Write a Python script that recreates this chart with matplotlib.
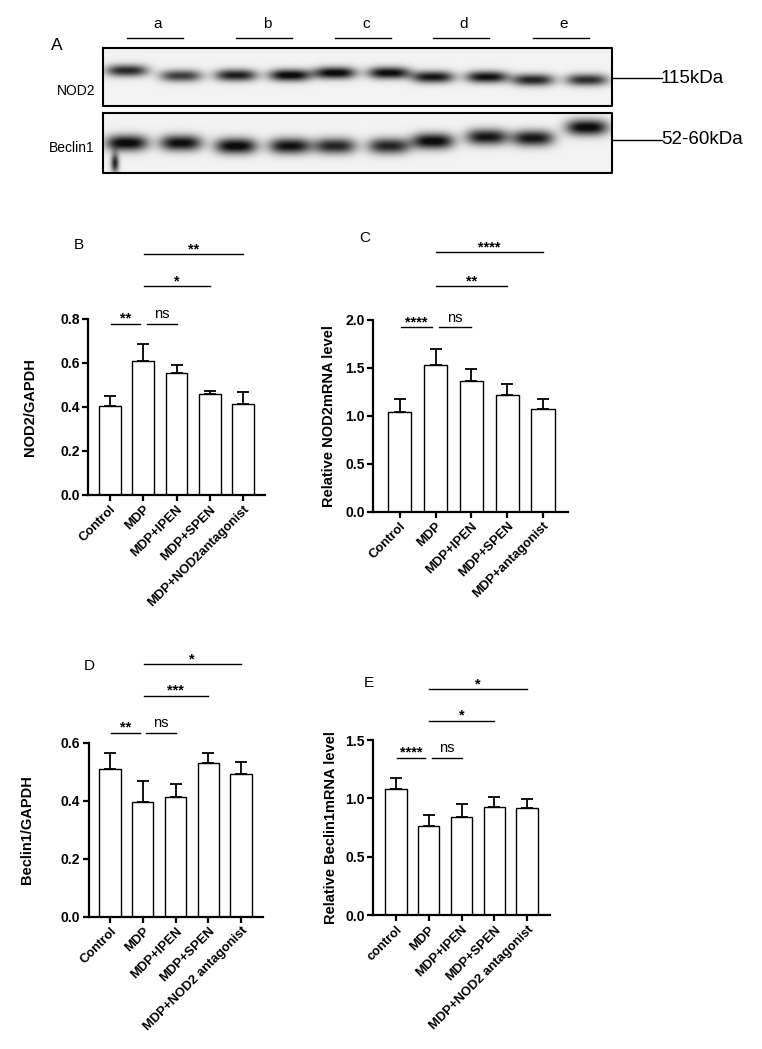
import numpy as np
import matplotlib
matplotlib.use('Agg')
from matplotlib import pyplot as plt

plt.rcParams['font.family'] = ['Liberation Sans', 'DejaVu Sans']

W, H = 762, 1049

# ---- panel A: western blot ----
groups = ['a', 'b', 'c', 'd', 'e']
blot_rows = ['NOD2', 'Beclin1']
blot_sizes = ['115kDa', '52-60kDa']
# band darkness and vertical position (fraction of strip height) per lane
nod2_dark = [0.80, 0.72, 0.85, 0.95, 0.95, 0.93, 0.88, 0.90, 0.82, 0.78]
nod2_pos = [0.39, 0.48, 0.47, 0.47, 0.43, 0.43, 0.50, 0.50, 0.55, 0.55]
becl_dark = [0.95, 0.92, 0.95, 0.90, 0.82, 0.82, 0.95, 0.88, 0.88, 0.95]
becl_pos = [0.50, 0.50, 0.55, 0.55, 0.55, 0.55, 0.47, 0.40, 0.42, 0.24]

# ---- bar panels ----
labels_B = ['Control', 'MDP', 'MDP+IPEN', 'MDP+SPEN', 'MDP+NOD2antagonist']
mean_B = [0.405, 0.609, 0.555, 0.461, 0.415]
sem_B = [0.046, 0.076, 0.036, 0.013, 0.055]

labels_C = ['Control', 'MDP', 'MDP+IPEN', 'MDP+SPEN', 'MDP+antagonist']
mean_C = [1.043, 1.530, 1.360, 1.214, 1.068]
sem_C = [0.133, 0.164, 0.129, 0.115, 0.111]

labels_D = ['Control', 'MDP', 'MDP+IPEN', 'MDP+SPEN', 'MDP+NOD2 antagonist']
mean_D = [0.509, 0.394, 0.414, 0.530, 0.491]
sem_D = [0.055, 0.073, 0.045, 0.034, 0.041]

labels_E = ['control', 'MDP', 'MDP+IPEN', 'MDP+SPEN', 'MDP+NOD2 antagonist']
mean_E = [1.080, 0.761, 0.844, 0.929, 0.915]
sem_E = [0.093, 0.097, 0.105, 0.082, 0.084]

# comparisons: (group1, group2, label)
sig_B = [(0, 1, '**'), (1, 2, 'ns'), (1, 3, '*'), (1, 4, '**')]
sig_C = [(0, 1, '****'), (1, 2, 'ns'), (1, 3, '**'), (1, 4, '****')]
sig_D = [(0, 1, '**'), (1, 2, 'ns'), (1, 3, '***'), (1, 4, '*')]
sig_E = [(0, 1, '****'), (1, 2, 'ns'), (1, 3, '*'), (1, 4, '*')]

fig = plt.figure(figsize=(W / 100, H / 100), dpi=100)
fig.patch.set_facecolor('white')

# overlay in pixel coordinates for the blot and panel letters
ov = fig.add_axes([0, 0, 1, 1])
ov.axis('off')

box_x0, box_x1 = 103, 612
boxes = [(48, 106), (113, 173)]
centres = [155, 264, 363, 461, 561]
lane_x = []
for c in centres:
    lane_x += [c - 28, c + 26]


def strip(y0, y1, dark, pos, sy, smear=False):
    xs = np.arange(box_x0, box_x1) + 0.5
    ys = np.arange(y0, y1) + 0.5
    X, Y = np.meshgrid(xs, ys)
    img = np.zeros_like(X)
    for lx, d, p in zip(lane_x, dark, pos):
        yc = y0 + p * (y1 - y0)
        img += d * np.exp(-np.abs((X - lx) / 21.0) ** 3) * np.exp(-((Y - yc) / sy) ** 2)
    if smear:
        img += 0.8 * np.exp(-((X - lane_x[0] + 12) / 4.0) ** 2) * \
            np.exp(-((Y - y1 + 10) / 10.0) ** 2)
    return np.clip(0.95 - img, 0.05, 1)


imgs = [strip(48, 106, nod2_dark, nod2_pos, 6.0),
        strip(113, 173, becl_dark, becl_pos, 8.0, smear=True)]
for (y0, y1), img, name, size in zip(boxes, imgs, blot_rows, blot_sizes):
    ov.imshow(img, cmap='gray', vmin=0, vmax=1, extent=(box_x0, box_x1, y1, y0),
              aspect='auto', interpolation='bilinear')
    ov.plot([box_x0, box_x1, box_x1, box_x0, box_x0], [y0, y0, y1, y1, y0],
            color='k', lw=1.5)
    ym = y0 + 0.52 * (y1 - y0) if name == 'NOD2' else y0 + 0.45 * (y1 - y0)
    ov.plot([box_x1, 662], [ym, ym], color='k', lw=1.0)
    ov.text(661, ym, size, fontsize=13.5, va='center', ha='left')
    ov.text(95, y0 + 0.74 * (y1 - y0) if name == 'NOD2' else y0 + 0.58 * (y1 - y0),
            name, fontsize=10, va='center', ha='right')
ov.set_xlim(0, W)
ov.set_ylim(H, 0)

for g, c in zip(groups, centres):
    ov.plot([c - 28, c + 28], [38, 38], color='k', lw=1.0)
    ov.text(c + 3, 24, g, fontsize=11, ha='center', va='center')
ov.text(57, 45, 'A', fontsize=12.5, ha='center', va='center')

for letter, (px, py) in zip('BCDE', [(79, 245), (365, 238), (89, 666), (369, 683)]):
    ov.text(px, py, letter, fontsize=11, ha='center', va='center')


def bar_panel(rect, labels, means, sems, ylim, yticks, ylabel, lab_x,
              sigs, levels, pad):
    ax = fig.add_axes(rect)
    x = np.arange(len(means))
    ax.bar(x, means, width=0.65, color='white', edgecolor='k', linewidth=1.0, zorder=2)
    ax.errorbar(x, means, yerr=[np.zeros(len(sems)), sems], fmt='none', ecolor='k',
                elinewidth=1.3, capsize=4.5, capthick=1.3, zorder=1)
    ax.set_xlim(-pad[0], len(means) - 1 + pad[1])
    ax.set_ylim(*ylim)
    ax.set_yticks(yticks)
    ax.set_yticklabels(['%.1f' % t for t in yticks], fontweight='bold', fontsize=10)
    ax.set_xticks(x)
    ax.set_xticklabels(labels, rotation=45, ha='right', rotation_mode='anchor',
                       fontweight='bold', fontsize=9.4)
    for s in ['top', 'right']:
        ax.spines[s].set_visible(False)
    for s in ['left', 'bottom']:
        ax.spines[s].set_linewidth(1.6)
    ax.tick_params(width=1.6, length=4, pad=2)
    ax.set_ylabel(ylabel, fontweight='bold', fontsize=10.5)
    ax.yaxis.set_label_coords(lab_x, 0.5)
    for (g1, g2, txt), lv in zip(sigs, levels):
        x1 = g1 + (0.03 if g2 - g1 == 1 and g1 == 0 else 0.1 if g2 - g1 == 1 else 0.02)
        x2 = g2 - (0.1 if g2 - g1 == 1 and g1 == 0 else 0.0)
        ax.plot([x1, x2], [lv, lv], color='k', lw=1.0, clip_on=False)
        if txt == 'ns':
            ax.annotate(txt, ((x1 + x2) / 2, lv), xytext=(0, 2), textcoords='offset points',
                        ha='center', va='bottom', fontsize=10.5, annotation_clip=False)
        else:
            ax.annotate(txt, ((x1 + x2) / 2, lv), xytext=(0, -1.5), textcoords='offset points',
                        ha='center', va='bottom', fontsize=10.5, fontweight='bold',
                        annotation_clip=False)
    return ax


def rect(l, r, t, b):
    return [l / W, 1 - b / H, (r - l) / W, (b - t) / H]


bar_panel(rect(88, 265, 319, 495), labels_B, mean_B, sem_B, (0, 0.8),
          [0, 0.2, 0.4, 0.6, 0.8], 'NOD2/GAPDH', -0.29, sig_B,
          [0.779, 0.779, 0.95, 1.095], (0.66, 0.66))
bar_panel(rect(373, 568, 320, 511.7), labels_C, mean_C, sem_C, (0, 2.0),
          [0, 0.5, 1.0, 1.5, 2.0], 'Relative NOD2mRNA level', -0.19, sig_C,
          [1.923, 1.923, 2.355, 2.71], (0.75, 0.7))
bar_panel(rect(88.5, 262.7, 742.7, 916.7), labels_D, mean_D, sem_D, (0, 0.6),
          [0, 0.2, 0.4, 0.6], 'Beclin1/GAPDH', -0.31, sig_D,
          [0.634, 0.634, 0.762, 0.870], (0.66, 0.66))
bar_panel(rect(373, 550, 740, 915.3), labels_E, mean_E, sem_E, (0, 1.5),
          [0, 0.5, 1.0, 1.5], 'Relative Beclin1mRNA level', -0.2, sig_E,
          [1.347, 1.347, 1.665, 1.935], (0.7, 0.7))

fig.savefig('out.png', dpi=100, facecolor='white')
